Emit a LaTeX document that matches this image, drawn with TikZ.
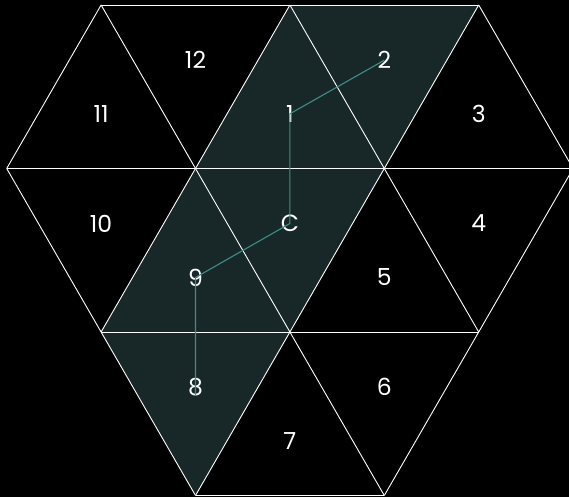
\documentclass[tikz,border=0pt]{standalone}
\usepackage{fontspec}
\setmainfont{Poppins}
\definecolor{shade}{RGB}{24,40,40}
\definecolor{link}{RGB}{64,140,136}
\tikzset{
  edge/.style={draw=white, line width=0.9pt, line join=round},
  cell/.style={fill=shade},
  lbl/.style={text=white, font=\fontsize{23.5}{24}\selectfont, inner sep=0pt},
  linkline/.style={draw=link, line width=1.1pt}
}
\begin{document}
\begin{tikzpicture}[x=1pt,y=-1pt]
\fill[black] (0,0) rectangle (569,497);
\useasboundingbox (0,0) rectangle (569,497);
\clip (0,0) rectangle (569,497);
% lattice points
\coordinate (A1) at (101.1,5);
\coordinate (A2) at (289.9,5);
\coordinate (A3) at (478.7,5);
\coordinate (B0) at (6.7,168.5);
\coordinate (B1) at (195.5,168.5);
\coordinate (B2) at (384.3,168.5);
\coordinate (B3) at (573.1,168.5);
\coordinate (C0) at (101.1,332);
\coordinate (C1) at (289.9,332);
\coordinate (C2) at (478.7,332);
\coordinate (D0) at (195.5,495.5);
\coordinate (D1) at (384.3,495.5);
% shaded cells
\fill[cell] (A2) -- (B1) -- (B2) -- cycle;
\fill[cell] (A2) -- (A3) -- (B2) -- cycle;
\fill[cell] (B1) -- (C0) -- (C1) -- cycle;
\fill[cell] (B1) -- (B2) -- (C1) -- cycle;
\fill[cell] (C0) -- (C1) -- (D0) -- cycle;
% grid lines
\draw[edge] (A1) -- (A3);
\draw[edge] (B0) -- (B3);
\draw[edge] (C0) -- (C2);
\draw[edge] (D0) -- (D1);
\draw[edge] (A1) -- (B0);
\draw[edge] (A2) -- (C0);
\draw[edge] (A3) -- (D0);
\draw[edge] (B3) -- (D1);
\draw[edge] (A1) -- (D1);
\draw[edge] (A2) -- (C2);
\draw[edge] (A3) -- (B3);
\draw[edge] (B0) -- (D0);
% labels
\node[lbl] (n12) at (195.5,60.2) {12};
\node[lbl] (n2) at (384.3,60.2) {2};
\node[lbl] (n11) at (101.1,113.8) {11};
\node[lbl] (n1) at (289.9,113.8) {1};
\node[lbl] (n3) at (478.7,113.8) {3};
\node[lbl] (n10) at (101.1,223.5) {10};
\node[lbl] (nc) at (289.9,223.5) {C};
\node[lbl] (n4) at (478.7,223.5) {4};
\node[lbl] (n9) at (195.5,277.5) {9};
\node[lbl] (n5) at (384.3,277.5) {5};
\node[lbl] (n8) at (195.5,387) {8};
\node[lbl] (n6) at (384.3,387) {6};
\node[lbl] (n7) at (289.9,441) {7};
% path links
\draw[linkline] (n2.center) -- (n1.center) -- (nc.center) -- (n9.center) -- ([yshift=-8pt]n8.center);
\end{tikzpicture}
\end{document}
